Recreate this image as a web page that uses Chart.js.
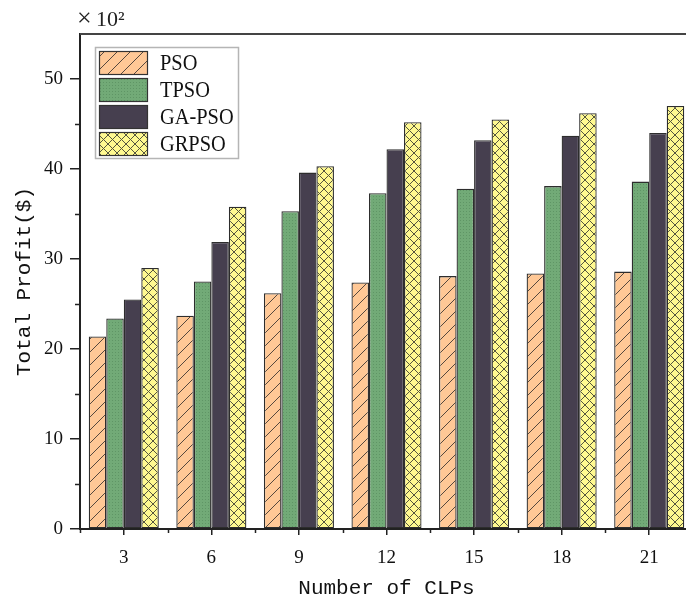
<!DOCTYPE html>
<html>
<head>
<meta charset="utf-8">
<script src="https://cdn.jsdelivr.net/npm/chart.js@4/dist/chart.umd.min.js"></script>
<style>
html,body{margin:0;padding:0;background:#fff;overflow:hidden;}
#wrap{width:700px;height:603px;position:relative;}
</style>
</head>
<body>
<div id="wrap"><canvas id="c"></canvas></div>
<script>
// ---- data ----
const categories = ['3','6','9','12','15','18','21'];
const seriesNames = ['PSO','TPSO','GA-PSO','GRPSO'];
const pso    = [21.4, 23.7, 26.2, 27.4, 28.1, 28.4, 28.6];
const tpso   = [23.4, 27.5, 35.3, 37.3, 37.8, 38.1, 38.6];
const gapso  = [25.5, 31.9, 39.6, 42.2, 43.2, 43.7, 44.0];
const grpso  = [29.0, 35.8, 40.3, 45.2, 45.5, 46.2, 47.0];
const yMajorTicks = [0,10,20,30,40,50];
const yMinorTicks = [5,15,25,35,45];
const scaleLabelSign = '×';
const scaleLabelPower = '10²';

// ---- patterns ----
function hatchPattern(){
  const s=13, c=document.createElement('canvas'); c.width=s; c.height=s;
  const g=c.getContext('2d');
  g.fillStyle='#FFC896'; g.fillRect(0,0,s,s);
  g.strokeStyle='#55483e'; g.lineWidth=1;
  g.beginPath();
  g.moveTo(-1,s+1); g.lineTo(s+1,-1);
  g.moveTo(-1,1); g.lineTo(1,-1);
  g.moveTo(s-1,s+1); g.lineTo(s+1,s-1);
  g.stroke();
  return g.createPattern(c,'repeat');
}
function crossPattern(){
  const s=9, c=document.createElement('canvas'); c.width=s; c.height=s;
  const g=c.getContext('2d');
  g.fillStyle='#FFF990'; g.fillRect(0,0,s,s);
  g.strokeStyle='#55553f'; g.lineWidth=1;
  g.beginPath();
  g.moveTo(0,0); g.lineTo(s,s);
  g.moveTo(0,s); g.lineTo(s,0);
  g.stroke();
  return g.createPattern(c,'repeat');
}
function dotPattern(){
  const s=3, c=document.createElement('canvas'); c.width=s; c.height=s;
  const g=c.getContext('2d');
  g.fillStyle='#72AA77'; g.fillRect(0,0,s,s);
  g.fillStyle='#5f9565'; g.fillRect(1,1,1,1);
  return g.createPattern(c,'repeat');
}
const fills = [hatchPattern(), dotPattern(), '#463F4F', crossPattern()];
const values = [pso, tpso, gapso, grpso];

const AXIS = '#222';
const monoFont = "'Liberation Mono', 'DejaVu Sans Mono', monospace";
const serifFont = "'Liberation Serif', 'DejaVu Serif', serif";

const decorPlugin = {
  id:'decor',
  afterDraw(chart){
    const ctx=chart.ctx, ca=chart.chartArea;
    const x=chart.scales.x, y=chart.scales.y;
    ctx.save();
    // top frame line
    ctx.strokeStyle='#444'; ctx.lineWidth=2;
    ctx.beginPath(); ctx.moveTo(ca.left, ca.top); ctx.lineTo(ca.right, ca.top); ctx.stroke();
    // minor y ticks
    ctx.strokeStyle=AXIS; ctx.lineWidth=1.5;
    ctx.beginPath();
    yMinorTicks.forEach(v=>{ const py=Math.round(y.getPixelForValue(v))+0.5; ctx.moveTo(ca.left-5,py); ctx.lineTo(ca.left,py); });
    // minor x ticks at category boundaries
    const half=(x.getPixelForValue(1)-x.getPixelForValue(0))/2;
    for(let i=0;i<=categories.length;i++){
      const px=Math.round(x.getPixelForValue(Math.min(i,categories.length-1)) + (i<categories.length?-half:half))+0.5;
      ctx.moveTo(px,ca.bottom); ctx.lineTo(px,ca.bottom+4);
    }
    ctx.stroke();
    // scale multiplier label
    ctx.fillStyle='#222'; ctx.textBaseline='alphabetic'; ctx.textAlign='left';
    ctx.font="26px "+serifFont;
    ctx.fillText(scaleLabelSign, ca.left-3, ca.top-8);
    ctx.font="22px "+serifFont;
    ctx.fillText(scaleLabelPower, ca.left+16, ca.top-8);
    // legend
    const lx=95.5, ly=47.5, lw=143, lh=111;
    ctx.fillStyle='#fff'; ctx.fillRect(lx,ly,lw,lh);
    ctx.strokeStyle='#b5b5b5'; ctx.lineWidth=1.5; ctx.strokeRect(lx,ly,lw,lh);
    chart.data.datasets.forEach((ds,i)=>{
      const bx=99.5, by=51.5+i*27;
      ctx.fillStyle=ds.backgroundColor; ctx.fillRect(bx,by,48,23);
      ctx.strokeStyle='#333'; ctx.lineWidth=1.2; ctx.strokeRect(bx,by,48,23);
      ctx.save();
      ctx.fillStyle='#111'; ctx.font="24px "+serifFont; ctx.textBaseline='middle';
      ctx.translate(160, by+12.5); ctx.scale(0.85,1);
      ctx.fillText(ds.label, 0, 0);
      ctx.restore();
    });
    ctx.restore();
  }
};

new Chart(document.getElementById('c'), {
  type:'bar',
  data:{
    labels:categories,
    datasets: seriesNames.map((n,i)=>({
      label:n, data:values[i], backgroundColor:fills[i],
      borderColor:'#2d2d2d', borderWidth:1.3, borderSkipped:false,
      barPercentage:1.0, categoryPercentage:0.8
    }))
  },
  options:{
    responsive:true, maintainAspectRatio:false, animation:false,
    devicePixelRatio:1,
    layout:{padding:{top:34,right:7,left:0,bottom:0}},
    plugins:{legend:{display:false}, tooltip:{enabled:false}},
    scales:{
      x:{
        grid:{display:true, drawOnChartArea:false, drawTicks:true, tickLength:6, offset:false, color:AXIS, lineWidth:1.5},
        border:{display:true, color:AXIS, width:2},
        ticks:{color:'#111', font:{family:serifFont, size:19}, padding:12, maxRotation:0},
        title:{display:true, text:'Number of CLPs', color:'#111', font:{family:monoFont, size:21}, padding:{top:0,bottom:2}},
        afterFit(s){ s.height=74; }
      },
      y:{
        min:0, max:55,
        grid:{display:true, drawOnChartArea:false, drawTicks:true, tickLength:10,
              color:(c)=> (c.tick && c.tick.value%10===0) ? AXIS : 'rgba(0,0,0,0)', lineWidth:1.5},
        border:{display:true, color:AXIS, width:2},
        afterBuildTicks(s){ s.ticks = yMajorTicks.map(v=>({value:v})); },
        ticks:{color:'#111', font:{family:serifFont, size:19}, padding:7},
        title:{display:true, text:'Total Profit($)', color:'#111', font:{family:monoFont, size:21}, padding:{top:12,bottom:0}},
        afterFit(s){ s.width=80; }
      }
    }
  },
  plugins:[decorPlugin]
});
</script>
</body>
</html>
